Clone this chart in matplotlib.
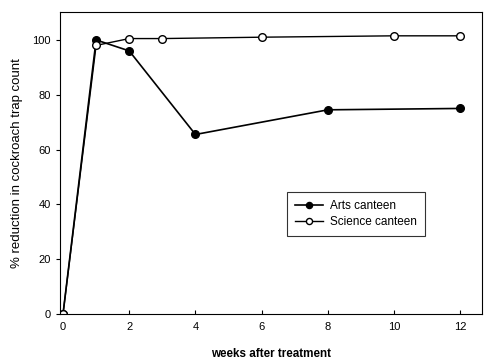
import matplotlib
matplotlib.use('Agg')
import matplotlib.pyplot as plt

plt.rcParams['font.family'] = ['Liberation Sans', 'DejaVu Sans']

arts_weeks = [0, 1, 2, 4, 8, 12]
arts_values = [0, 100, 96, 65.5, 74.5, 75]
science_weeks = [0, 1, 2, 3, 6, 10, 12]
science_values = [0, 98, 100.5, 100.5, 101, 101.5, 101.5]

fig = plt.figure(figsize=(4.88, 3.63), dpi=100)
ax = fig.add_axes([0.123, 0.135, 0.865, 0.832])

ax.plot(arts_weeks, arts_values, color='black', linewidth=1.2, marker='o',
        markersize=5.5, markerfacecolor='black', label='Arts canteen')
ax.plot(science_weeks, science_values, color='black', linewidth=1.0, marker='o',
        markersize=5.5, markerfacecolor='white', label='Science canteen')

ax.set_xlim(-0.09, 12.66)
ax.set_ylim(0, 110.2)
ax.set_xticks([0, 2, 4, 6, 8, 10, 12])
ax.set_yticks([0, 20, 40, 60, 80, 100])
ax.tick_params(axis='x', direction='in', length=3, labelsize=8, pad=6)
ax.tick_params(axis='y', direction='out', length=3, labelsize=8)
for s in ax.spines.values():
    s.set_linewidth(0.8)

ax.set_xlabel('weeks after treatment', fontsize=8.4, fontweight='bold', labelpad=11)
ax.set_ylabel('% reduction in cockroach trap count', fontsize=9.5, labelpad=7)

leg = ax.legend(loc='upper left', bbox_to_anchor=(0.538, 0.404),
                borderaxespad=0, fontsize=8.5, frameon=True, fancybox=False,
                edgecolor='black', handlelength=2.3, borderpad=0.7,
                markerscale=0.8, labelspacing=0.3, handletextpad=0.6)
leg.get_frame().set_linewidth(0.8)

fig.savefig('out.png', dpi=100)
